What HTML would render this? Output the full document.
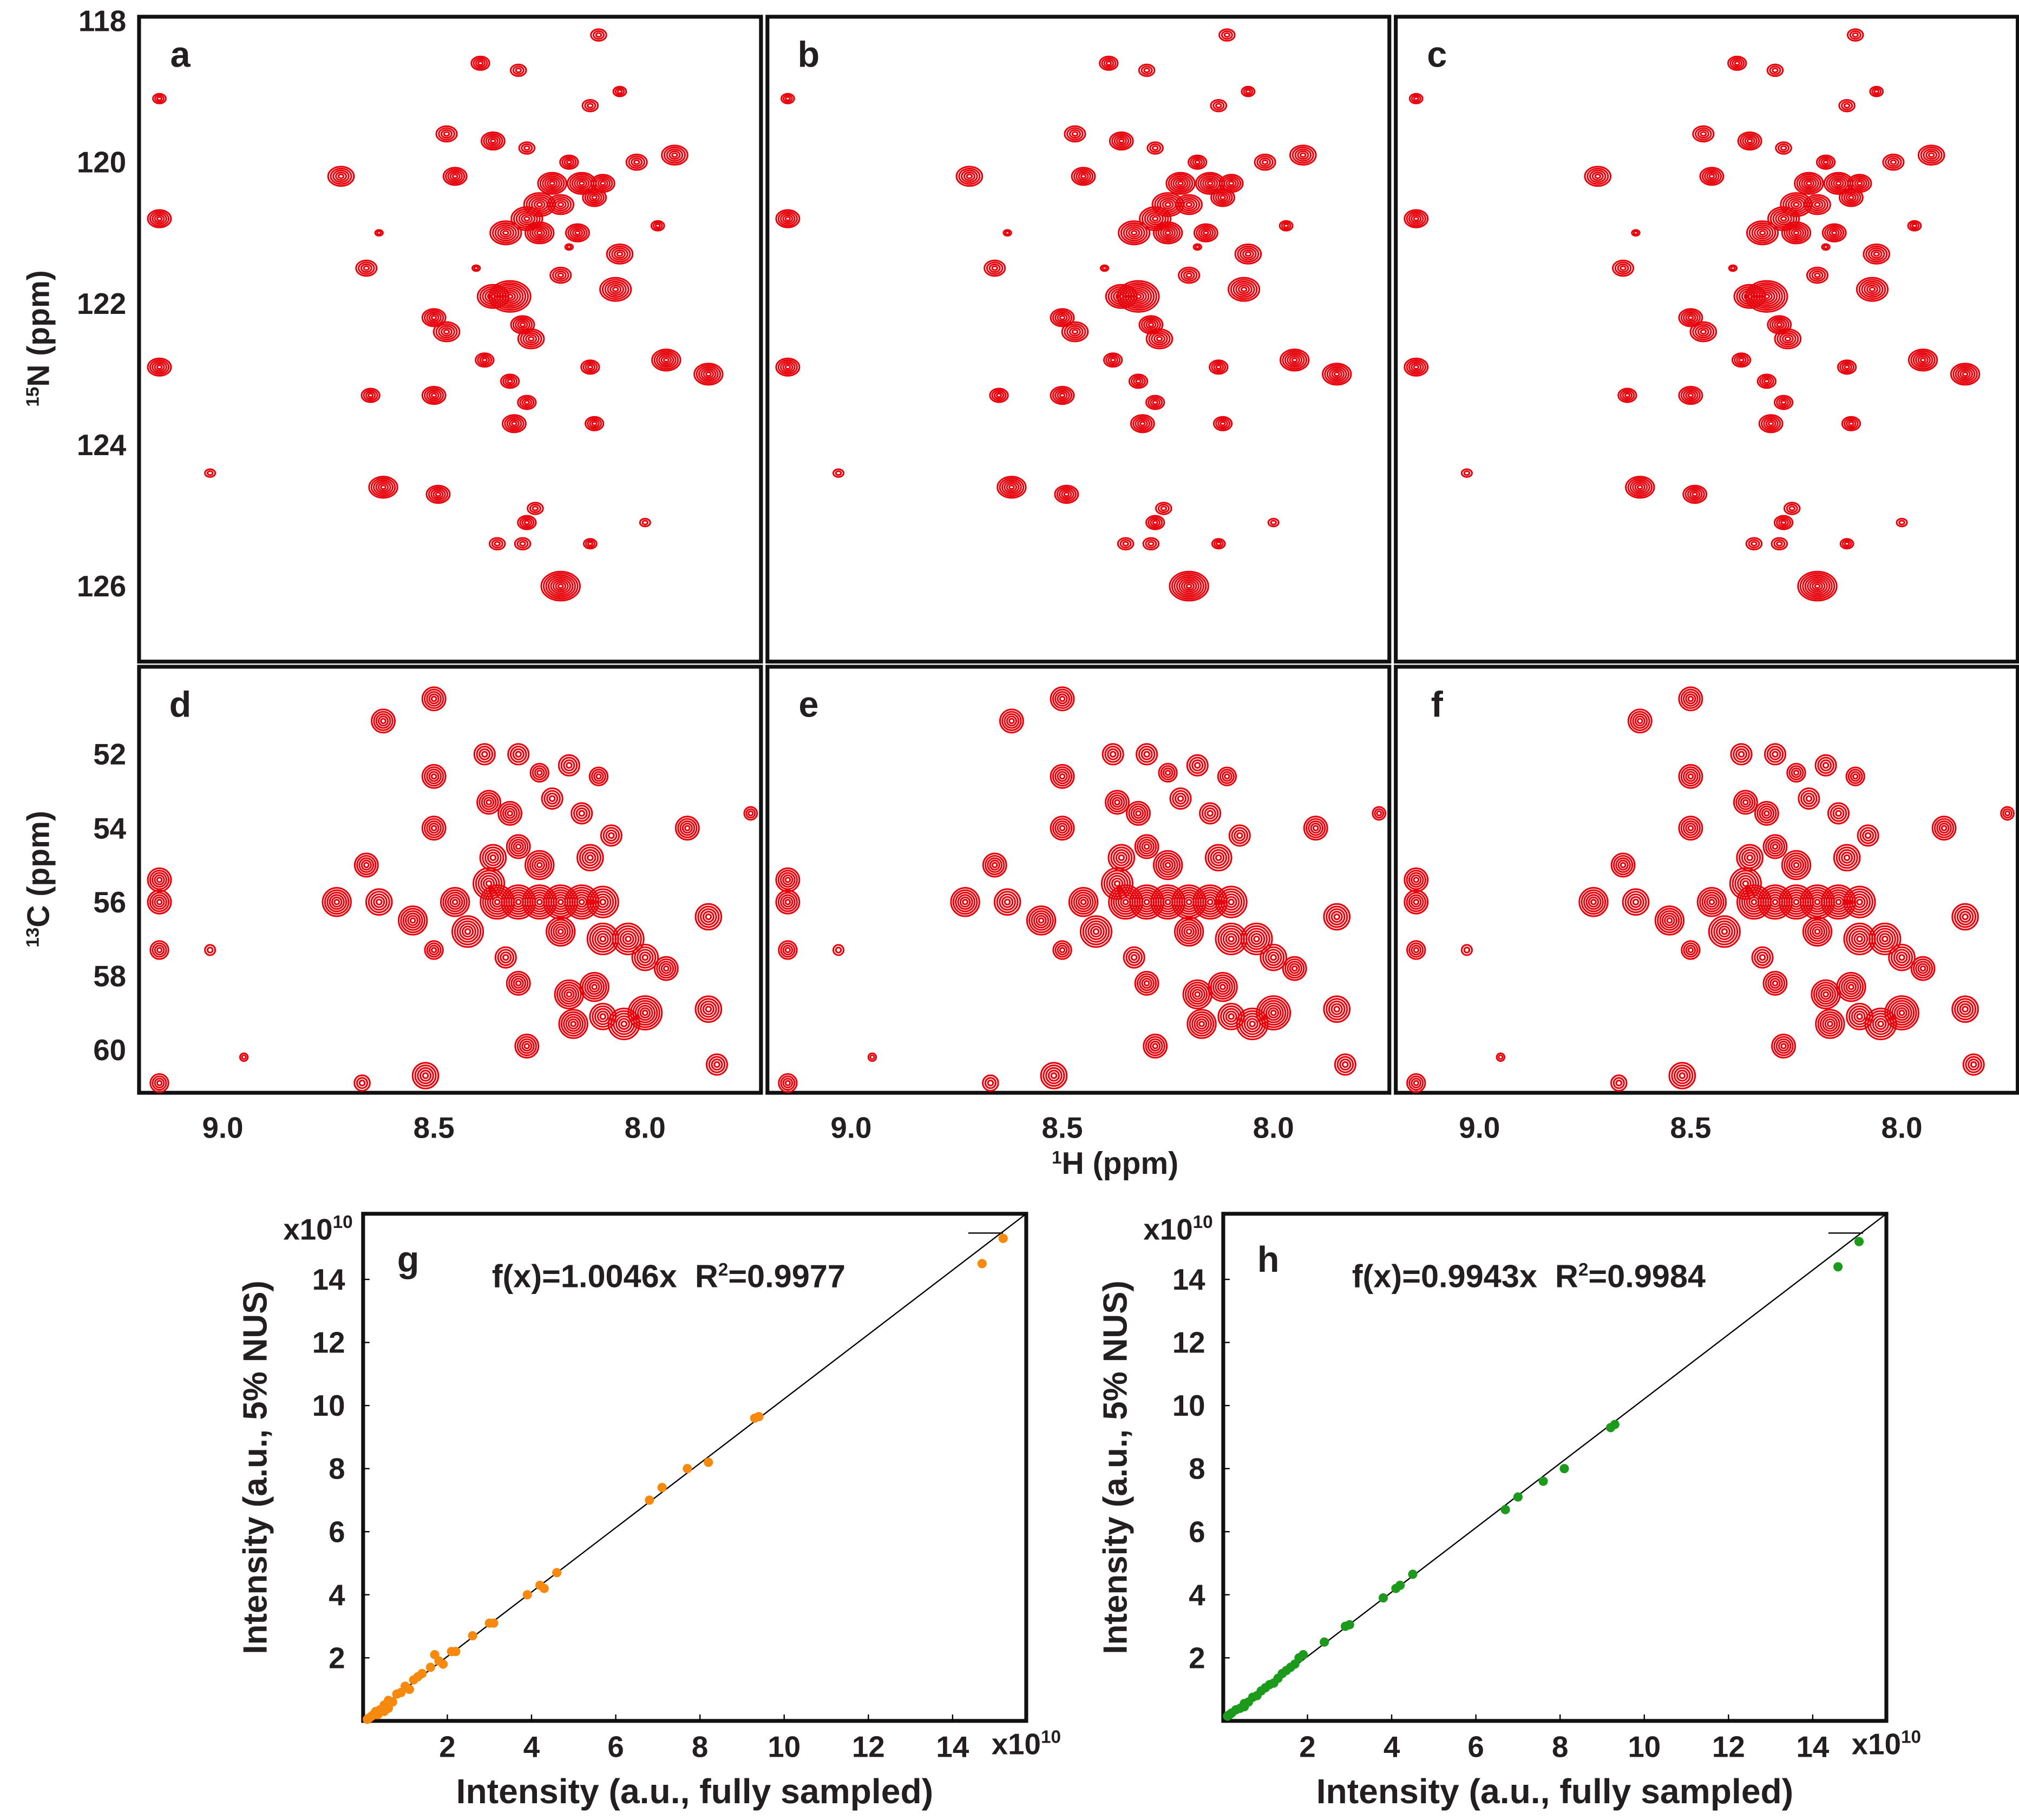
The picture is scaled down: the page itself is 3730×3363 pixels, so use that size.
<!DOCTYPE html>
<html><head><meta charset="utf-8">
<style>html,body{margin:0;padding:0;background:#fff}svg{display:block}
text{font-family:"Liberation Sans",Arial,sans-serif;font-weight:bold;fill:#231f20}</style>
</head><body>
<svg id="fig" xmlns="http://www.w3.org/2000/svg" width="3730" height="3363" viewBox="0 0 1568 1414" preserveAspectRatio="none"></svg>
<script>
// HSQC peaks: 1H ppm, 15N ppm, size
const hsqcH=[9.15,9.15,9.15,9.03,8.72,8.66,8.63,8.65,8.62,8.49,8.50,8.47,8.50,8.45,8.47,8.39,8.36,8.30,8.28,8.32,8.36,8.38,8.32,8.31,8.28,8.29,8.27,8.33,8.28,8.25,8.22,8.20,8.15,8.12,8.25,8.16,8.20,8.18,8.13,8.11,8.06,8.10,8.02,8.06,8.07,7.93,7.97,7.95,7.85,8.13,8.12,8.26,8.28,8.29,8.35,8.13,8.20,8.00,8.40,8.18];
const hsqcN=[119.1,120.8,122.9,124.4,120.2,121.5,121.0,123.3,124.6,124.7,122.2,122.4,123.3,120.2,119.6,118.6,119.7,118.7,119.8,121.9,121.9,122.8,123.1,123.7,123.4,122.3,122.5,121.0,120.8,120.6,120.3,120.6,120.3,120.5,121.0,121.0,121.6,120.0,119.2,118.2,119.0,120.3,120.0,121.3,121.8,119.9,120.9,122.8,123.0,122.9,123.7,124.9,125.1,125.4,125.4,125.4,126.0,125.1,121.5,121.2];
const hsqcS=[0.5,0.9,0.9,0.4,1,0.8,0.3,0.7,1.1,0.9,0.9,1,0.9,0.9,0.8,0.7,0.9,0.6,0.6,1.6,1.2,0.7,0.7,0.9,0.7,0.9,1,1.2,1.2,1.2,1.1,1.0,1.1,0.9,1.1,0.9,0.8,0.7,0.6,0.6,0.5,0.9,0.8,1,1.2,1,0.5,1.1,1.1,0.7,0.7,0.6,0.7,0.6,0.6,0.5,1.5,0.4,0.3,0.3];
// HNCA peaks: 1H ppm, 13C ppm, size
const hncaH=[9.15,9.15,9.15,9.15,9.03,8.95,8.73,8.66,8.63,8.62,8.67,8.50,8.52,8.50,8.50,8.55,8.50,8.45,8.42,8.37,8.35,8.30,8.25,8.20,8.15,8.10,8.38,8.30,8.25,8.37,8.32,8.22,8.18,8.15,8.11,8.08,8.13,8.25,8.36,8.30,8.30,8.28,8.20,8.18,8.17,8.12,8.10,8.04,8.00,8.05,8.00,8.10,7.95,7.85,7.83,7.85,7.90,7.75,8.33];
const hncaC=[55.4,56.0,57.3,60.9,57.3,60.2,56.0,55.0,56.0,51.1,60.9,50.5,60.7,52.6,54.0,56.5,57.3,56.0,56.8,55.5,56.0,56.0,56.0,56.0,56.0,56.0,52.0,52.0,52.5,53.3,53.6,53.2,52.3,53.6,52.6,54.2,54.8,55.0,54.8,54.5,58.2,59.9,56.8,58.5,59.3,58.3,57.0,57.0,57.5,59.3,59.0,59.1,57.8,58.9,60.4,56.4,54.0,53.6,57.5];
const hncaS=[0.9,0.9,0.7,0.7,0.4,0.3,1.1,0.9,1,0.9,0.6,0.9,1,0.9,0.9,1.1,0.7,1.1,1.2,1.2,1.3,1.3,1.3,1.3,1.3,1.2,0.8,0.8,0.7,0.9,0.9,0.8,0.8,0.8,0.7,0.8,1,1.1,1,0.9,0.9,0.9,1.1,1.1,1.1,1.1,1.2,1.2,1,1.2,1.3,1.0,0.9,1,0.8,1,0.9,0.5,0.8];
// scatter data (x1e10)
const gFull=[15.2,14.7,9.4,9.3,8.2,7.7,7.1,6.8,4.6,4.3,4.2,3.9,3.0,3.1,2.6,2.2,2.1,1.8,1.7,1.6,1.4,1.2,1.0,0.9,0.8,0.7,0.6,0.5,0.4,0.3,0.25,0.2,0.15,0.1,0.5,0.6,1.1,1.3,1.9,0.35];
const gNus=[15.3,14.5,9.65,9.6,8.2,8.0,7.4,7.0,4.7,4.2,4.3,4.0,3.1,3.1,2.7,2.2,2.2,1.9,2.1,1.7,1.5,1.3,1.1,0.9,0.85,0.6,0.65,0.5,0.35,0.3,0.2,0.15,0.1,0.05,0.3,0.4,1.0,1.4,1.8,0.2];
const hFull=[15.1,14.6,9.3,9.2,8.1,7.6,7.0,6.7,4.5,4.2,4.1,3.8,2.9,3.0,2.4,1.9,1.8,1.6,1.5,1.3,1.2,1.0,0.9,0.8,0.7,0.6,0.5,0.4,0.3,0.2,0.15,0.1,1.1,1.4,1.7,0.5];
const hNus=[15.2,14.4,9.4,9.3,8.0,7.6,7.1,6.7,4.65,4.3,4.2,3.9,3.0,3.05,2.5,2.1,2.0,1.7,1.6,1.35,1.2,1.05,0.95,0.8,0.75,0.6,0.55,0.4,0.35,0.25,0.2,0.15,1.15,1.5,1.8,0.45];

const NS='http://www.w3.org/2000/svg';
const svg=document.getElementById('fig');
function mk(tag,attrs,parent){const e=document.createElementNS(NS,tag);for(const k in attrs)e.setAttribute(k,attrs[k]);(parent||svg).appendChild(e);return e;}
function txt(s,x,y,size,anchor,parent){const t=mk('text',{x:x,y:y,'font-size':size,'text-anchor':anchor||'middle'},parent);t.textContent=s;return t;}

const panelsX=[[108,591],[596,1079],[1084,1567]];
const letters=[['a','b','c'],['d','e','f']];
const hx=(H,i)=>panelsX[i][0]+65+(9.0-H)*328;
const ny=N=>126+(N-120)*54.9;
const cy=C=>586+(C-52)*28.7;

function peaks(g,i,Hs,Ys,Ss,yf,ry0){
  for(let k=0;k<Hs.length;k++){
    const x=hx(Hs[k],i), y=yf(Ys[k]);
    const s=Ss[k]*1.25;const n=Math.max(1,Math.round(s*4));
    const pg=mk('g',{},g);
    
    
    for(let j=n;j>=1;j--){
      mk('ellipse',{cx:x,cy:y,rx:(8*s*j/n).toFixed(2),ry:(ry0*s*j/n).toFixed(2),fill:'none',stroke:'#e8000b','stroke-width':1.3},pg);
    }
  }
}
for(let i=0;i<3;i++){
  const [x0,x1]=panelsX[i];
  const gt=mk('g',{});
  mk('rect',{x:x0,y:13,width:x1-x0,height:501,fill:'none',stroke:'#111','stroke-width':3},gt);
  peaks(gt,i,hsqcH,hsqcN,hsqcS,ny,6);
  const lt=txt(letters[0][i],x0+32,52,28,'middle',gt);
  const gb=mk('g',{});
  mk('rect',{x:x0,y:518,width:x1-x0,height:331,fill:'none',stroke:'#111','stroke-width':3},gb);
  peaks(gb,i,hncaH,hncaC,hncaS,cy,8);
  const lb=txt(letters[1][i],x0+32,557,28,'middle',gb);
  [9.0,8.5,8.0].forEach(v=>{const t=txt(v.toFixed(1),hx(v,i),884,23,'middle');});
}
[118,120,122,124,126].forEach(v=>{const t=txt(String(v),98,ny(v)+8,23,'end');});
[52,54,56,58,60].forEach(v=>{const t=txt(String(v),98,cy(v)+8,23,'end');});
function rotLabel(sup,main,x,y,name){const t=mk('text',{x:x,y:y,'font-size':24,'text-anchor':'middle',transform:`rotate(-90 ${x} ${y})`});
 
 const a=mk('tspan',{'font-size':14,dy:-8},t);a.textContent=sup;const b=mk('tspan',{dy:8},t);b.textContent=main;return t;}
rotLabel('15','N (ppm)',38,263,'y-axis-title-15n');
rotLabel('13','C (ppm)',38,683,'y-axis-title-13c');
{const t=mk('text',{x:866,y:912,'font-size':24,'text-anchor':'middle'});
 const a=mk('tspan',{'font-size':14,dy:-8},t);a.textContent='1';const b=mk('tspan',{dy:8},t);b.textContent='H (ppm)';}

// scatter plots
function scatter(x0,letter,eq,r2,xs,ys,color){
  const g=mk('g',{});
  const W=515,y0=1337,yT=943;
  const sx=v=>x0+v*32.7, sy=v=>y0-v*24.5;
  mk('rect',{x:x0,y:yT,width:W,height:y0-yT,fill:'none',stroke:'#111','stroke-width':3},g);
  const fl=mk('line',{x1:sx(0),y1:sy(0),x2:x0+W,y2:yT,stroke:'#000','stroke-width':1},g);
  
  mk('line',{x1:x0+470,y1:958,x2:x0+497,y2:958,stroke:'#000','stroke-width':1},g);
  for(let v=2;v<=14;v+=2){
    mk('line',{x1:sx(v),y1:y0,x2:sx(v),y2:y0-5,stroke:'#000','stroke-width':1},g);
    const t=txt(String(v),sx(v),y0+28,23,'middle',g);
    mk('line',{x1:x0,y1:sy(v),x2:x0+5,y2:sy(v),stroke:'#000','stroke-width':1},g);
    const u=txt(String(v),x0-14,sy(v)+8,23,'end',g);
  }
  for(let k=0;k<xs.length;k++){
    const c=mk('circle',{cx:sx(xs[k]),cy:sy(ys[k]),r:3.6,fill:color},g);
    
    
  }
  const lt=txt(letter,x0+35,988,28,'middle',g);
  const e=mk('text',{x:x0+100,y:1000,'font-size':25,'text-anchor':'start'},g);
  const e1=mk('tspan',{},e);e1.textContent=eq+'\u00a0\u00a0R';const e2=mk('tspan',{'font-size':14,dy:-9},e);e2.textContent='2';const e3=mk('tspan',{dy:9},e);e3.textContent='='+r2;
  function exp(x,y){const t=mk('text',{x:x,y:y,'font-size':23,'text-anchor':'start'},g);
    const a=mk('tspan',{},t);a.textContent='x10';const b=mk('tspan',{'font-size':14,dy:-9},t);b.textContent='10';}
  exp(x0-62,963);exp(x0+488,1363);
  const xl=txt('Intensity (a.u., fully sampled)',x0+W/2,1401,27,'middle',g);
  const yl=mk('text',{x:x0-75,y:1140,'font-size':26,'text-anchor':'middle',transform:`rotate(-90 ${x0-75} 1140)`},g);yl.textContent='Intensity (a.u., 5% NUS)';
  
}
scatter(282,'g','f(x)=1.0046x','0.9977',gFull,gNus,'#f7890e');
scatter(950,'h','f(x)=0.9943x','0.9984',hFull,hNus,'#1c9a1c');
</script>
</body></html>
